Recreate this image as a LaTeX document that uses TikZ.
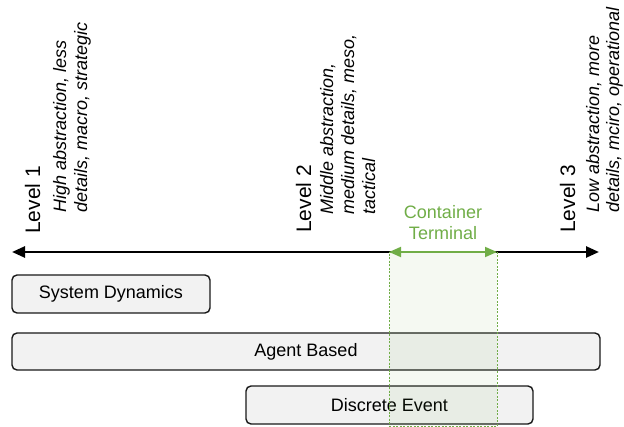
\documentclass[tikz,border=0pt]{standalone}
\usepackage{fontspec}
\setmainfont{Liberation Sans}
\usetikzlibrary{arrows.meta}
\definecolor{ctgreen}{HTML}{70AD47}
\definecolor{boxfill}{HTML}{F2F2F2}
\tikzset{
  levellabel/.style={rotate=90, anchor=base west, inner sep=0pt, font=\fontsize{21}{24}\selectfont},
  leveldesc/.style={rotate=90, anchor=north west, inner sep=0pt, align=left, font=\fontsize{18}{21}\selectfont\itshape},
  methodbox/.style={draw=black!90, line width=1.4pt, rounded corners=5pt, fill=boxfill, inner sep=0pt, font=\fontsize{18}{20}\selectfont},
  axis/.style={line width=2.6pt, {Triangle[length=13pt,width=11pt]}-{Triangle[length=13pt,width=11pt]}},
  ctarrow/.style={draw=ctgreen, line width=1.8pt, {Triangle[length=12pt,width=10pt]}-{Triangle[length=12pt,width=10pt]}},
  ctband/.style={draw=ctgreen, dashed, dash pattern=on 2pt off 1.5pt, line width=0.5pt, fill=ctgreen, fill opacity=0.07}
}
\begin{document}
\begin{tikzpicture}[x=1pt,y=1pt]
\useasboundingbox (0,0) rectangle (624,426);
% axis
\coordinate (axL) at (12,174);
\coordinate (axR) at (599,174);
\draw[axis] (axL) -- (axR);
% level labels
\node[levellabel] (lv1) at (40,192) {Level 1};
\node[levellabel] (lv2) at (311,193) {Level 2};
\node[levellabel] (lv3) at (575,193) {Level 3};
\node[leveldesc] (d1) at (53,213) {High abstraction, less\\details, macro, strategic};
\node[leveldesc] (d2) at (320,211) {Middle abstraction,\\medium details, meso,\\tactical};
\node[leveldesc, font=\fontsize{18}{20}\selectfont\itshape] (d3) at (586,213) {Low abstraction, more\\details, mciro, operational};
% method boxes
\node[methodbox, minimum width=198pt, minimum height=38pt] (sd) at (111,132) {System Dynamics};
\node[methodbox, minimum width=588pt, minimum height=37pt] (ab) at (306,74.5) {Agent Based};
\node[methodbox, minimum width=287pt, minimum height=38pt] (de) at (389.5,21) {Discrete Event};
% container terminal band
\coordinate (ctL) at (389,174);
\coordinate (ctR) at (497,174);
\node[ctband, minimum width=108pt, minimum height=174pt, inner sep=0pt] (band) at (443,87) {};
\draw[ctarrow] (ctL) -- (ctR);
\node[text=ctgreen, align=center, font=\fontsize{18}{21}\selectfont] (ct) at (443,203.5) {Container\\Terminal};
\end{tikzpicture}
\end{document}
